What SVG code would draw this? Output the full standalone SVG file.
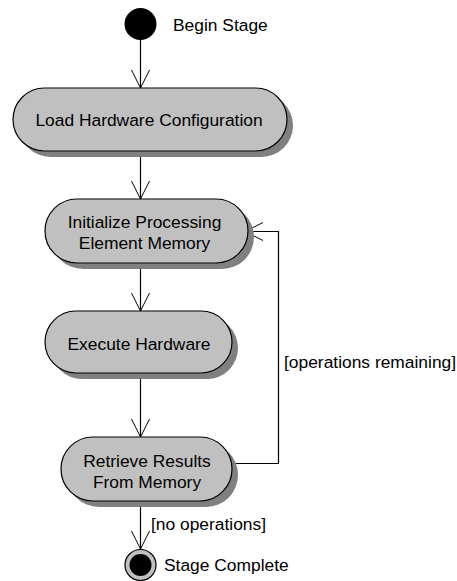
<svg xmlns="http://www.w3.org/2000/svg" width="457" height="581" viewBox="0 0 457 581">
  <defs>
    <marker id="open" viewBox="0 0 20 20" refX="18" refY="10" markerWidth="20" markerHeight="20" markerUnits="userSpaceOnUse" orient="auto">
      <path d="M0,1 L18,10 L0,19" fill="none" stroke="#000" stroke-width="1"/>
    </marker>
  </defs>
  <style>
    text { font-family: "Liberation Sans", Arial, sans-serif; font-size: 17.4px; fill: #000; }
    .act { fill: #c0c0c0; stroke: #000; stroke-width: 1.2; }
    .shadow { fill: #808080; }
    .edge { fill: none; stroke: #000; stroke-width: 1.2; }
    .mid { text-anchor: middle; }
  </style>

  <rect width="457" height="581" fill="#fff"/>

  <g id="connectors">
    <line class="edge" x1="140.5" y1="40" x2="140.5" y2="88" marker-end="url(#open)"/>
    <line class="edge" x1="140.5" y1="151" x2="140.5" y2="199" marker-end="url(#open)"/>
    <line class="edge" x1="140.5" y1="263" x2="140.5" y2="311" marker-end="url(#open)"/>
    <line class="edge" x1="140.5" y1="373" x2="140.5" y2="437" marker-end="url(#open)"/>
    <polyline class="edge" points="232,463.5 278.5,463.5 278.5,231.5 245,231.5" marker-end="url(#open)"/>
    <line class="edge" x1="140.5" y1="501" x2="140.5" y2="549" marker-end="url(#open)"/>
    <text x="284" y="368">[operations remaining]</text>
    <text x="151" y="530">[no operations]</text>
  </g>

  <g id="begin">
    <circle cx="140.5" cy="24" r="16" fill="#000"/>
    <text x="173" y="31">Begin Stage</text>
  </g>

  <g id="load-config">
    <rect class="shadow" x="19" y="94" width="274" height="63" rx="31.5"/>
    <rect class="act" x="13" y="88" width="274" height="63" rx="31.5"/>
    <text class="mid" x="149" y="126">Load Hardware Configuration</text>
  </g>

  <g id="init-memory">
    <rect class="shadow" x="51" y="205" width="203" height="64" rx="32"/>
    <rect class="act" x="45" y="199" width="203" height="64" rx="32"/>
    <text class="mid" x="144.5" y="228">Initialize Processing</text>
    <text class="mid" x="144.5" y="249">Element Memory</text>
  </g>

  <g id="execute">
    <rect class="shadow" x="51" y="317" width="187" height="62" rx="31"/>
    <rect class="act" x="45" y="311" width="187" height="62" rx="31"/>
    <text class="mid" x="139" y="350">Execute Hardware</text>
  </g>

  <g id="retrieve">
    <rect class="shadow" x="67" y="443" width="171" height="64" rx="32"/>
    <rect class="act" x="61" y="437" width="171" height="64" rx="32"/>
    <text class="mid" x="147" y="467">Retrieve Results</text>
    <text class="mid" x="147" y="488">From Memory</text>
  </g>

  <g id="complete">
    <circle cx="140.5" cy="565" r="15.5" fill="#c0c0c0" stroke="#000" stroke-width="1.2"/>
    <circle cx="140.5" cy="565" r="11" fill="#000"/>
    <text x="164" y="571">Stage Complete</text>
  </g>
</svg>
